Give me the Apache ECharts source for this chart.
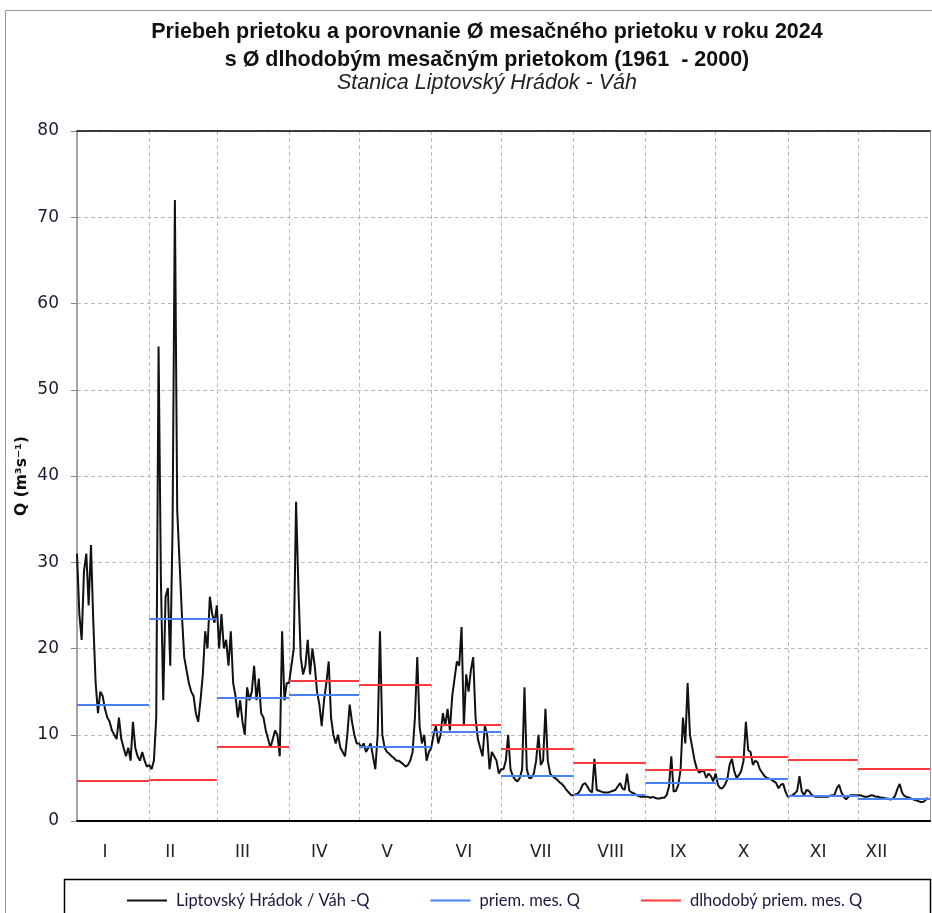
<!DOCTYPE html>
<html>
<head>
<meta charset="utf-8">
<script src="https://cdn.jsdelivr.net/npm/echarts@6/dist/echarts.min.js"></script>
<style>
html, body { margin: 0; padding: 0; background: #fff; }
#chart { width: 932px; height: 913px; }
</style>
</head>
<body>
<div id="chart"></div>
<script>
// month labels, lengths (2024 is a leap year) and the day each label sits on
var monthLabels = ['I', 'II', 'III', 'IV', 'V', 'VI', 'VII', 'VIII', 'IX', 'X', 'XI', 'XII'];
var monthDays = [31, 29, 31, 30, 31, 30, 31, 31, 30, 31, 30, 31];
var labelDay = [12, 40, 71, 104, 133, 166, 199, 229, 258, 286, 318, 343];

// daily discharge Q (m3/s)
var jan = [31, 24, 21, 29, 31, 25, 32, 23, 16, 12.5, 15, 14.5, 13, 12, 11.5, 10.5, 10, 9.5, 12, 9.5, 8.5, 7.5, 8.5, 7, 11.5, 8.5, 7.5, 7, 8, 7, 6.3];
var feb = [6.5, 6, 7, 12, 55, 28, 14, 26, 27, 18, 34, 72, 36, 30, 24, 19, 17.5, 16, 15, 14.5, 12.5, 11.5, 14, 17, 22, 20, 26, 24, 23];
var mar = [25, 20, 24, 20, 21, 18, 22, 16, 14.5, 12, 14, 11.5, 10, 15.5, 14, 15, 18, 14, 16.5, 12.5, 12, 10.5, 9.5, 8.5, 9.5, 10.5, 10, 7.5, 22, 14, 16];
var apr = [16, 18, 20, 37, 27, 19, 17, 18, 21, 17, 20, 18, 15, 13.5, 11, 14, 16, 18.5, 12, 10, 9, 10, 8.5, 8, 7.5, 10, 13.5, 11.5, 10, 9];
var may = [9, 8.5, 9, 8, 8.5, 9, 7.5, 6, 10, 22, 10, 8.5, 8, 7.8, 7.5, 7.3, 7, 7, 6.8, 6.6, 6.3, 6.5, 7, 8, 12, 19, 11, 9, 10, 7, 8];
var jun = [8.5, 10, 11, 9, 10, 12.5, 11, 13, 10.5, 14.5, 16.5, 18.5, 18, 22.5, 11, 17, 15, 17.5, 19, 12, 9.5, 8.5, 7.5, 11, 10, 6, 8, 7.5, 7, 5.5];
var jul = [6, 6, 7, 10, 6, 5.2, 4.8, 4.6, 5, 6, 15.5, 6, 5, 5, 5.5, 7, 10, 6.5, 7, 13, 7, 5.5, 5.2, 5, 4.8, 4.5, 4.3, 4, 3.6, 3.3, 3];
var aug = [3, 3.1, 3.2, 3.6, 4.2, 4.4, 4, 3.5, 3.3, 7.2, 3.6, 3.5, 3.4, 3.3, 3.3, 3.3, 3.4, 3.5, 3.6, 4, 4.4, 3.8, 3.6, 5.5, 3.5, 3.3, 3.2, 3, 2.9, 2.8, 2.8];
var sep = [2.8, 2.8, 2.7, 2.8, 2.7, 2.6, 2.6, 2.7, 2.7, 3, 4, 7.5, 3.4, 3.5, 4.2, 6, 12, 9, 16, 10, 8.5, 7, 6, 5.6, 5.8, 5.8, 5, 5.5, 5.2, 4.6];
var oct = [5.5, 4.2, 3.8, 3.8, 4.2, 4.8, 6.5, 7.2, 5.8, 5, 5.3, 5.8, 7, 11.5, 8.2, 8, 6.5, 7, 6.8, 6, 5.6, 5.2, 5, 4.9, 4.8, 4.6, 4.4, 3.8, 4.2, 4.3, 3.4];
var nov = [2.8, 2.9, 3, 3.2, 3.5, 5.2, 3.4, 3, 3.6, 3.5, 3.1, 2.9, 2.8, 2.8, 2.8, 2.8, 2.8, 2.8, 2.9, 3, 3, 3.8, 4.2, 3.3, 2.8, 2.5, 2.8, 3, 3, 3];
var dec = [3, 3, 2.9, 2.8, 2.8, 2.9, 3, 2.9, 2.8, 2.8, 2.7, 2.7, 2.6, 2.6, 2.5, 2.6, 2.9, 3.7, 4.3, 3.3, 2.9, 2.8, 2.7, 2.6, 2.5, 2.4, 2.3, 2.2, 2.2, 2.4, 2.7];

// monthly means 2024 and long-term monthly means 1961-2000
var monthMean = [13.5, 23.5, 14.3, 14.6, 8.6, 10.4, 5.3, 3.1, 4.4, 4.9, 2.9, 2.55];
var longTermMean = [4.7, 4.8, 8.6, 16.3, 15.8, 11.2, 8.4, 6.8, 5.9, 7.45, 7.1, 6.1];

var yTicks = [0, 80, 10];

var flow = [].concat(jan, feb, mar, apr, may, jun, jul, aug, sep, oct, nov, dec);

var monthStart = [];
var acc = 0;
monthDays.forEach(function (n) { monthStart.push(acc); acc += n; });

var days = [];
for (var i = 0; i <= acc; i++) days.push(String(i));

var labelAt = {};
labelDay.forEach(function (d, m) { labelAt[d] = monthLabels[m]; });
var boundary = {};
monthStart.slice(1).forEach(function (st) { boundary[st] = true; });

function segments(values) {
  return values.map(function (v, m) {
    return [{ coord: [monthStart[m], v] }, { coord: [monthStart[m] + monthDays[m], v] }];
  });
}

var chart = echarts.init(document.getElementById('chart'));
var option = {
  animation: false,
  title: {
    text: 'Priebeh prietoku a porovnanie \u00D8 mesačného prietoku v roku 2024\ns \u00D8 dlhodobým mesačným prietokom (1961  - 2000)',
    subtext: 'Stanica Liptovský Hrádok - Váh',
    left: 487,
    textAlign: 'center',
    top: 18,
    padding: 0,
    itemGap: -2,
    textStyle: { fontFamily: 'Liberation Sans', fontSize: 21.5, fontWeight: 'bold', color: '#111', lineHeight: 28 },
    subtextStyle: { fontFamily: 'Liberation Sans', fontSize: 21.5, fontStyle: 'italic', color: '#222' }
  },
  graphic: [{
    type: 'rect',
    shape: { x: 5.5, y: 10.5, width: 1000, height: 1000 },
    style: { fill: 'none', stroke: '#999', lineWidth: 1 },
    silent: true
  }, {
    type: 'rect',
    shape: { x: 64.5, y: 879.5, width: 866, height: 60 },
    style: { fill: 'none', stroke: '#000', lineWidth: 1.5 },
    silent: true
  }],
  legend: {
    data: ['Liptovský Hrádok / Váh -Q', 'priem. mes. Q', 'dlhodobý priem. mes. Q'],
    left: 127,
    top: 892,
    padding: 0,
    icon: 'rect',
    itemWidth: 40,
    itemHeight: 2,
    itemGap: 61,
    textStyle: { fontFamily: 'Lato', fontSize: 16.5, color: '#1a1a40', padding: [0, 0, 0, 4] }
  },
  grid: { left: 77, right: 2, top: 131, bottom: 92 },
  xAxis: [{
    type: 'category',
    data: days,
    boundaryGap: false,
    axisLine: { lineStyle: { color: '#000', width: 2 } },
    axisTick: { show: false },
    axisLabel: {
      interval: function (idx) { return labelAt[idx] !== undefined; },
      formatter: function (v, idx) { return labelAt[idx] || ''; },
      margin: 23,
      fontFamily: 'DejaVu Sans',
      fontSize: 17,
      color: '#222'
    },
    splitLine: {
      show: true,
      interval: function (idx) { return boundary[idx] === true; },
      lineStyle: { color: '#bbb', type: [4, 3], width: 1 }
    }
  }, {
    type: 'category',
    data: days,
    position: 'top',
    boundaryGap: false,
    axisLine: { show: true, onZero: false, lineStyle: { color: '#000', width: 1.5 } },
    axisTick: { show: false },
    axisLabel: { show: false },
    splitLine: { show: false }
  }],
  yAxis: [{
    type: 'value',
    min: yTicks[0],
    max: yTicks[1],
    interval: yTicks[2],
    name: 'Q (m\u00B3s\u207B\u00B9)',
    nameLocation: 'middle',
    nameGap: 47,
    nameMoveOverlap: false,
    nameTextStyle: { fontFamily: 'DejaVu Sans', fontSize: 15.5, fontWeight: 'bold', color: '#111' },
    axisLine: { show: true, onZero: false, lineStyle: { color: '#888', width: 1.5 } },
    axisTick: { show: true, length: 6, lineStyle: { color: '#888' } },
    axisLabel: { margin: 18, fontFamily: 'DejaVu Sans', fontSize: 17, color: '#1a1a30' },
    splitLine: { lineStyle: { color: '#bbb', type: [4, 3], width: 1 } }
  }, {
    type: 'value',
    min: yTicks[0],
    max: yTicks[1],
    interval: yTicks[2],
    position: 'right',
    axisLine: { show: true, onZero: false, lineStyle: { color: '#999' } },
    axisTick: { show: false },
    axisLabel: { show: false },
    splitLine: { show: false }
  }],
  series: [{
    name: 'Liptovský Hrádok / Váh -Q',
    type: 'line',
    data: flow,
    symbol: 'none',
    showSymbol: false,
    sampling: false,
    lineStyle: { color: '#111', width: 2 },
    itemStyle: { color: '#111' },
    z: 3
  }, {
    name: 'priem. mes. Q',
    type: 'line',
    data: [],
    symbol: 'none',
    lineStyle: { color: '#4a80f5', width: 2 },
    itemStyle: { color: '#4a80f5' },
    markLine: {
      silent: true,
      symbol: 'none',
      label: { show: false },
      lineStyle: { color: '#4a80f5', width: 2, type: 'solid' },
      data: segments(monthMean)
    },
    z: 2
  }, {
    name: 'dlhodobý priem. mes. Q',
    type: 'line',
    data: [],
    symbol: 'none',
    lineStyle: { color: '#ff3a3a', width: 2 },
    itemStyle: { color: '#ff3a3a' },
    markLine: {
      silent: true,
      symbol: 'none',
      label: { show: false },
      lineStyle: { color: '#ff3a3a', width: 2, type: 'solid' },
      data: segments(longTermMean)
    },
    z: 2
  }]
};
chart.setOption(option);
</script>
</body>
</html>
